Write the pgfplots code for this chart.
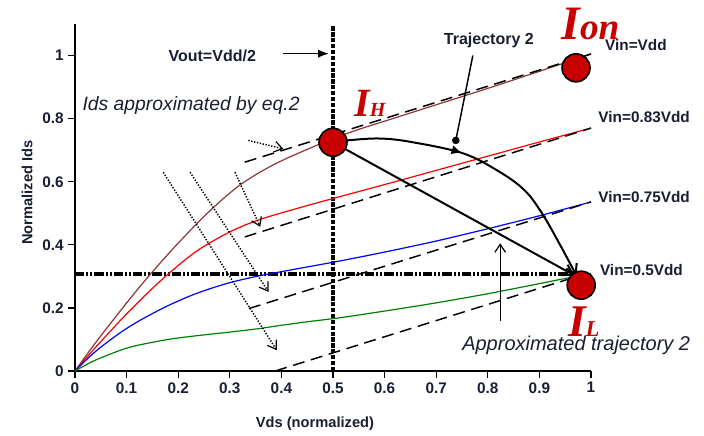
\documentclass[border=0pt]{standalone}
\usepackage{pgfplots}
\pgfplotsset{compat=1.18}
\usepackage{fontspec}
\setmainfont{Liberation Sans}
\newfontfamily\libserif{Liberation Serif}
\usetikzlibrary{arrows.meta,decorations.markings}
\definecolor{brownc}{RGB}{140,55,55}
\definecolor{dotred}{RGB}{200,0,0}
\definecolor{greenc}{RGB}{0,128,0}
\definecolor{txt}{RGB}{25,30,50}
\begin{document}
\begin{tikzpicture}
\begin{axis}[
  at={(0,0)}, anchor=origin,
  scale only axis, width=387pt, height=260.25pt,
  xmin=0, xmax=1, ymin=0, ymax=1.1,
  axis lines*=left,
  axis line style={line width=1.1pt},
  tick align=outside, major tick length=5pt,
  tick style={line width=1pt, black},
  xtick={0,0.1,0.2,0.3,0.4,0.5,0.6,0.7,0.8,0.9,1},
  ytick={0,0.2,0.4,0.6,0.8,1},
  /pgf/number format/assume math mode=true,
  ticklabel style={font=\bfseries\fontsize{11.5}{13}\selectfont, text=txt},
  xlabel={Vds (normalized)}, ylabel={Normalized Ids},
  label style={font=\bfseries\fontsize{11}{13}\selectfont, text=txt},
  xlabel style={at={(axis description cs:0.465,-0.153)}, anchor=center},
  ylabel style={at={(axis description cs:-0.093,0.514)}, anchor=center},
  clip=false,
]
% reference lines
\addplot[line width=3pt, black, dash pattern=on 3.2pt off 1.2pt] coordinates {(0.5,0) (0.5,1.097)};
\addplot[line width=3pt, black, dash pattern=on 7pt off 1.5pt on 1.5pt off 1.5pt on 1.5pt off 1.5pt] coordinates {(0,0.307) (0.955,0.307)};
% curves
\addplot[brownc, line width=0.9pt, smooth] table {
0 0
0.03 0.068
0.055 0.122
0.09 0.195
0.12 0.256
0.152 0.318
0.184 0.377
0.216 0.433
0.25 0.49
0.287 0.546
0.32 0.59
0.352 0.624
0.385 0.654
0.417 0.679
0.462 0.711
0.5 0.737
0.55 0.766
0.6 0.792
0.7 0.844
0.8 0.896
0.9 0.95
1.0 1.005
};
\addplot[red, line width=0.9pt, smooth] table {
0 0
0.03 0.057
0.055 0.102
0.09 0.164
0.12 0.214
0.15 0.262
0.174 0.298
0.21 0.348
0.242 0.387
0.287 0.43
0.32 0.456
0.352 0.477
0.385 0.494
0.417 0.509
0.46 0.529
0.514 0.553
0.6 0.591
0.7 0.636
0.8 0.681
0.9 0.726
1.0 0.77
};
\addplot[blue, line width=0.9pt, smooth] table {
0 0
0.03 0.048
0.055 0.082
0.09 0.124
0.12 0.155
0.15 0.182
0.184 0.21
0.223 0.238
0.26 0.26
0.3 0.28
0.352 0.3
0.417 0.32
0.514 0.349
0.6 0.377
0.7 0.412
0.8 0.451
0.9 0.492
1.0 0.536
};
\addplot[greenc, line width=0.9pt, smooth] table {
0 0
0.03 0.027
0.055 0.045
0.09 0.067
0.12 0.081
0.184 0.101
0.242 0.113
0.287 0.121
0.35 0.133
0.4 0.145
0.45 0.156
0.514 0.169
0.6 0.19
0.7 0.216
0.8 0.245
0.9 0.277
1.0 0.31
};
% approximation dashed lines
\addplot[black, line width=1.1pt, dash pattern=on 9pt off 5pt] coordinates {(0.329,0.662) (1.0,1.005)};
\addplot[black, line width=1.1pt, dash pattern=on 9pt off 5pt] coordinates {(0.329,0.425) (1.0,0.77)};
\addplot[black, line width=1.1pt, dash pattern=on 9pt off 5pt] coordinates {(0.337,0.198) (1.0,0.536)};
\addplot[black, line width=1.1pt, dash pattern=on 9pt off 5pt] coordinates {(0.388,0) (0.96,0.293)};
% dotted arrows
\addplot[black, line width=1.1pt, dash pattern=on 1pt off 1.2pt, -{Straight Barb[length=6pt,width=8pt,line width=0.9pt]}] coordinates {(0.336,0.731) (0.404,0.704)};
\addplot[black, line width=1.1pt, dash pattern=on 1pt off 1.2pt, -{Straight Barb[length=6pt,width=8pt,line width=0.9pt]}] coordinates {(0.171,0.63) (0.391,0.066)};
\addplot[black, line width=1.1pt, dash pattern=on 1pt off 1.2pt, -{Straight Barb[length=6pt,width=8pt,line width=0.9pt]}] coordinates {(0.223,0.63) (0.375,0.251)};
\addplot[black, line width=1.1pt, dash pattern=on 1pt off 1.2pt, -{Straight Barb[length=6pt,width=8pt,line width=0.9pt]}] coordinates {(0.31,0.63) (0.359,0.457)};
% trajectory 2
\addplot[black, line width=1.5pt, smooth, tension=0.6, -{Straight Barb[length=7pt,width=9pt]},
  postaction={decorate}, decoration={markings, mark=at position 0.43 with {\arrow{Latex[length=8pt,width=7pt]}}}] coordinates {
(0.5,0.725) (0.527,0.731) (0.591,0.737) (0.655,0.725) (0.752,0.69) (0.818,0.636) (0.87,0.575) (0.905,0.5) (0.94,0.4) (0.972,0.302)};
% approximated trajectory
\addplot[black, line width=1.5pt, -{Straight Barb[length=7pt,width=9pt]}] coordinates {(0.5,0.725) (0.968,0.303)};
% pointer to trajectory
\addplot[black, line width=1.1pt] coordinates {(0.771,1.0) (0.738,0.731)};
\addplot[only marks, mark=*, mark size=2.6pt, black] coordinates {(0.738,0.731)};
% arrow for approx trajectory label
\addplot[black, line width=0.9pt, -{Straight Barb[length=6pt,width=8pt]}] coordinates {(0.824,0.16) (0.824,0.405)};
% Vout arrow
\addplot[black, line width=1.1pt, -{Latex[length=8pt,width=6pt]}] coordinates {(0.403,1.006) (0.492,1.006)};
% operating points
\addplot[only marks, mark=*, mark size=10.5pt, mark options={fill=dotred, draw=black, line width=1.2pt}] coordinates {(0.5,0.725) (0.971,0.961) (0.981,0.272)};
% texts
\node[font=\bfseries\fontsize{12}{14}\selectfont, text=txt] at (axis cs:0.266,1.0) {Vout=Vdd/2};
\node[font=\itshape\fontsize{14.5}{16}\selectfont, text=txt] at (axis cs:0.225,0.842) {Ids approximated by eq.2};
\node[font=\bfseries\fontsize{12}{14}\selectfont, text=txt] at (axis cs:0.802,1.047) {Trajectory 2};
\node[font=\itshape\fontsize{15}{17}\selectfont, text=txt, anchor=west, inner sep=0pt] at (axis cs:0.75,0.082) {Approximated trajectory 2};
\node[font=\bfseries\fontsize{11.5}{13}\selectfont, text=txt, anchor=west, inner sep=0pt] at (axis cs:1.027,1.032) {Vin=Vdd};
\node[font=\bfseries\fontsize{11.5}{13}\selectfont, text=txt, anchor=west, inner sep=0pt] at (axis cs:1.014,0.804) {Vin=0.83Vdd};
\node[font=\bfseries\fontsize{11.5}{13}\selectfont, text=txt, anchor=west, inner sep=0pt] at (axis cs:1.014,0.551) {Vin=0.75Vdd};
\node[font=\bfseries\fontsize{11.5}{13}\selectfont, text=txt, anchor=west, inner sep=0pt] at (axis cs:1.017,0.32) {Vin=0.5Vdd};
\node[anchor=base west, inner sep=0pt, text=dotred] at (axis cs:0.942,1.05) {\libserif\bfseries\itshape\fontsize{36}{36}\selectfont I\fontsize{28}{28}\selectfont on};
\node[anchor=base west, inner sep=0pt, text=dotred] at (axis cs:0.541,0.807) {\libserif\bfseries\itshape\fontsize{30}{30}\selectfont I\fontsize{15}{15}\selectfont H};
\node[anchor=base west, inner sep=0pt, text=dotred] at (axis cs:0.955,0.108) {\libserif\bfseries\itshape\fontsize{34}{34}\selectfont I\fontsize{17}{17}\selectfont L};
\end{axis}
\path (-56.25pt,-45pt) rectangle (471.75pt,278.25pt);
\end{tikzpicture}
\end{document}
